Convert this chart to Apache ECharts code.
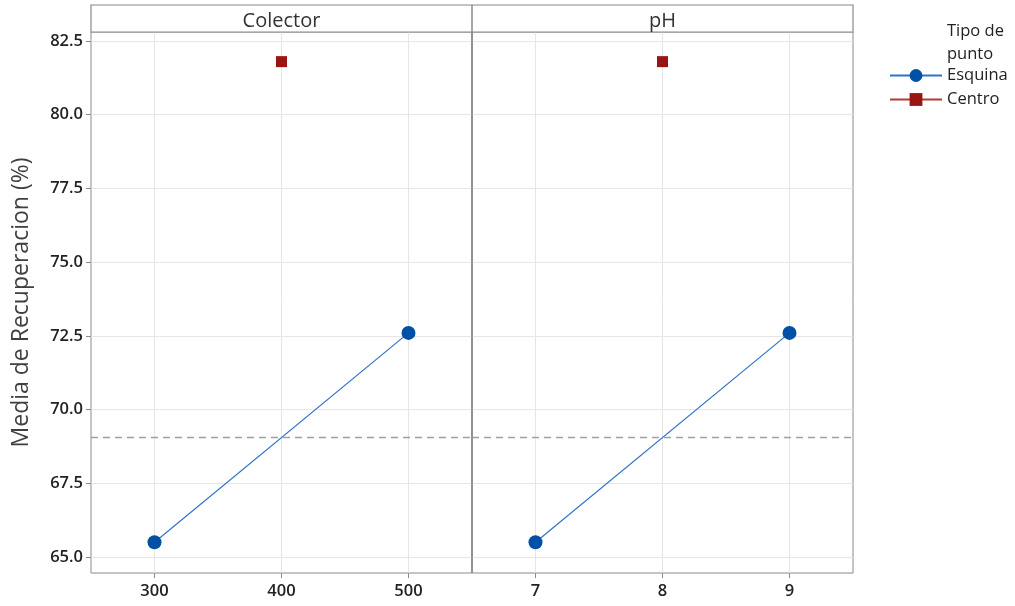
<!DOCTYPE html>
<html><head><meta charset="utf-8">
<script src="https://cdn.jsdelivr.net/npm/echarts@6/dist/echarts.min.js"></script>
<style>html,body{margin:0;padding:0;background:#fff}#c{width:1015px;height:606px}</style>
</head><body><div id="c"></div>
<script>
const panelTitles = ['Colector', 'pH'];
const colectorLevels = [300, 500];
const phLevels = [7, 9];
const colectorCenter = [400];
const phCenter = [8];
const esquinaColector = [65.5, 72.6];
const esquinaPh = [65.5, 72.6];
const centroColector = [81.8];
const centroPh = [81.8];
const grandMean = 69.05;
const yTicks = [65.0, 67.5, 70.0, 72.5, 75.0, 77.5, 80.0, 82.5];
const colectorTicks = [300, 400, 500];
const phTicks = [7, 8, 9];

const font = "'Open Sans', 'Noto Sans', sans-serif";
const blue = '#0051a5', blueLine = '#2f72c8', red = '#9b1414';
const chart = echarts.init(document.getElementById('c'));

function pairs(xs, ys){ return xs.map((x,i)=>[x, ys[i]]); }

const gridCommon = {top: 32, bottom: 33, show: true, borderColor: '#8a8a8a', borderWidth: 1};
const labelStyle = {color: '#222', fontSize: 16.5, fontWeight: 600, fontFamily: font};
const yCommon = {
  type: 'value', min: 64.457, max: 82.805,
  splitLine: {show: true, lineStyle: {color: '#e6e6e6', width: 1}},
  axisLine: {show: false}
};
function markLine(){
  return {silent: true, symbol: 'none', label: {show: false},
    lineStyle: {color: '#a0a0a0', type: [7, 5], width: 1.3},
    data: [{yAxis: grandMean}]};
}

chart.setOption({
  animation: false,
  textStyle: {fontFamily: font},
  grid: [
    Object.assign({left: 91, right: 543}, gridCommon),
    Object.assign({left: 472, right: 162}, gridCommon)
  ],
  xAxis: [
    {gridIndex: 0, type: 'value', min: 250, max: 550,
     axisLabel: Object.assign({margin: 10, customValues: colectorTicks}, labelStyle),
     axisTick: {show: true, length: 5, lineStyle: {color: '#888'}, customValues: colectorTicks},
     axisLine: {show: false},
     splitLine: {show: true, lineStyle: {color: '#e6e6e6'}}},
    {gridIndex: 1, type: 'value', min: 6.5, max: 9.5,
     axisLabel: Object.assign({margin: 10, customValues: phTicks}, labelStyle),
     axisTick: {show: true, length: 5, lineStyle: {color: '#888'}, customValues: phTicks},
     axisLine: {show: false},
     splitLine: {show: true, lineStyle: {color: '#e6e6e6'}}}
  ],
  yAxis: [
    Object.assign({gridIndex: 0,
      name: 'Media de Recuperacion (%)', nameLocation: 'middle', nameGap: 58,
      nameTextStyle: {fontSize: 23, color: '#404040', fontFamily: font},
      axisLabel: Object.assign({margin: 8, customValues: yTicks, formatter: v => v.toFixed(1)}, labelStyle),
      axisTick: {show: true, length: 5, lineStyle: {color: '#888'}, customValues: yTicks}
    }, yCommon),
    Object.assign({gridIndex: 1, axisLabel: {show: false, customValues: yTicks},
      axisTick: {show: false, customValues: yTicks}}, yCommon)
  ],
  legend: {
    left: 884, top: 62, orient: 'vertical', itemGap: 7, itemWidth: 52, itemHeight: 16,
    textStyle: {fontSize: 16.5, color: '#222', fontFamily: font},
    data: ['Esquina', 'Centro']
  },
  title: {
    text: 'Tipo de\npunto', left: 942, top: 15,
    textStyle: {fontSize: 16.5, fontWeight: 'normal', color: '#222', lineHeight: 23, fontFamily: font}
  },
  graphic: [
    {type: 'rect', shape: {x: 91, y: 5, width: 762, height: 27},
     style: {fill: '#fff', stroke: '#8a8a8a', lineWidth: 1.2}, z: 10},
    {type: 'line', shape: {x1: 472, y1: 5, x2: 472, y2: 573},
     style: {stroke: '#8a8a8a', lineWidth: 1.5}, z: 10},
    {type: 'text', x: 281.5, y: 21, z: 11,
     style: {text: panelTitles[0], fill: '#333', align: 'center', verticalAlign: 'middle', font: "20px " + font}},
    {type: 'text', x: 662.5, y: 21, z: 11,
     style: {text: panelTitles[1], fill: '#333', align: 'center', verticalAlign: 'middle', font: "20px " + font}}
  ],
  series: [
    {name: 'Esquina', type: 'line', xAxisIndex: 0, yAxisIndex: 0,
     data: pairs(colectorLevels, esquinaColector), symbol: 'circle', symbolSize: 14,
     itemStyle: {color: blue}, lineStyle: {color: blueLine, width: 1.2},
     markLine: markLine(), z: 3},
    {name: 'Esquina', type: 'line', xAxisIndex: 1, yAxisIndex: 1,
     data: pairs(phLevels, esquinaPh), symbol: 'circle', symbolSize: 14,
     itemStyle: {color: blue}, lineStyle: {color: blueLine, width: 1.2},
     markLine: markLine(), z: 3},
    {name: 'Centro', type: 'line', xAxisIndex: 0, yAxisIndex: 0,
     data: pairs(colectorCenter, centroColector), symbol: 'rect', symbolSize: 11, showSymbol: true,
     itemStyle: {color: red}, lineStyle: {color: '#b03a3a', width: 1.2}, z: 3},
    {name: 'Centro', type: 'line', xAxisIndex: 1, yAxisIndex: 1,
     data: pairs(phCenter, centroPh), symbol: 'rect', symbolSize: 11, showSymbol: true,
     itemStyle: {color: red}, lineStyle: {color: '#b03a3a', width: 1.2}, z: 3}
  ]
});
</script></body></html>
